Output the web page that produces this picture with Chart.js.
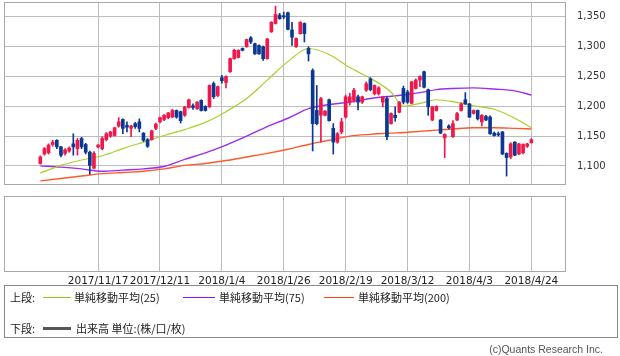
<!DOCTYPE html>
<html>
<head>
<meta charset="utf-8">
<script src="https://cdn.jsdelivr.net/npm/chart.js@4/dist/chart.umd.min.js"></script>
<style>
  html,body{margin:0;padding:0;background:#fff;}
  #wrap{position:relative;width:620px;height:356px;overflow:hidden;font-family:"Noto Sans CJK JP","DejaVu Sans",sans-serif;color:#222;}
  canvas{position:absolute;left:0;}
  #legend{position:absolute;left:4px;top:285px;width:614px;height:53px;border:1px solid #888;box-sizing:border-box;font-size:11px;}
  .t{position:absolute;white-space:nowrap;line-height:12px;}
  .ln{position:absolute;display:block;height:1px;}
  #copy{position:absolute;right:17px;top:343px;font-family:"Liberation Sans",sans-serif;font-size:10.5px;color:#555;white-space:nowrap;}
</style>
</head>
<body>
<div id="wrap">
  <canvas id="top" width="620" height="190" style="top:0"></canvas>
  <canvas id="bot" width="620" height="96" style="top:190px"></canvas>
  <div id="legend">
    <span class="t" style="left:5px;top:5px">上段:</span>
    <div class="ln" style="left:38px;top:11px;width:28px;background:#8fc80f"></div>
    <span class="t" style="left:69px;top:5px">単純移動平均(25)</span>
    <div class="ln" style="left:178px;top:11px;width:32px;background:#8f10f0"></div>
    <span class="t" style="left:214px;top:5px">単純移動平均(75)</span>
    <div class="ln" style="left:319px;top:11px;width:30px;background:#ff3c10"></div>
    <span class="t" style="left:353px;top:5px">単純移動平均(200)</span>
    <span class="t" style="left:5px;top:36px">下段:</span>
    <div class="ln" style="left:38px;top:41px;width:28px;height:3px;background:#555"></div>
    <span class="t" style="left:71px;top:36px">出来高 単位:(株/口/枚)</span>
  </div>
  <div id="copy">(c)Quants Research Inc.</div>
</div>
<script>
// ---- data (index = trading day, 0 = 2017/10/27 ... 119 = 2018/4/24)
const open = [
1104,1120,1122,1136,1143,1132,1121,1125,1137,1129,
1146,1136,1123,1096,1132,1129,1144,1150,1151,1167,
1178,1168,1163,1171,1174,1155,1144,1144,1163,1174,
1178,1181,1182,1193,1191,1185,1198,1201,1196,1210,
1200,1199,1238,1218,1248,1240,1258,1280,1282,1297,
1300,1315,1305,1302,1300,1280,1325,1339,1353,1352,
1357,1328,1300,1322,1339,1297,1260,1193,1185,1185,
1211,1163,1140,1157,1182,1207,1210,1216,1207,1227,
1246,1221,1221,1207,1213,1171,1185,1190,1230,1224,
1205,1230,1244,1258,1228,1177,1193,1177,1147,1167,
1149,1177,1193,1211,1204,1188,1193,1174,1183,1182,
1155,1154,1157,1121,1115,1140,1120,1122,1133,1139];
const high = [
1117,1131,1137,1143,1144,1133,1129,1132,1154,1146,
1148,1138,1125,1124,1136,1149,1156,1158,1165,1181,
1179,1174,1168,1173,1179,1156,1146,1160,1172,1182,
1186,1190,1195,1194,1192,1200,1212,1204,1208,1211,
1201,1236,1241,1234,1252,1251,1281,1296,1295,1298,
1313,1317,1306,1303,1301,1314,1342,1368,1356,1358,
1358,1341,1315,1342,1340,1300,1263,1235,1215,1193,
1212,1171,1156,1180,1219,1222,1230,1219,1217,1241,
1248,1236,1233,1216,1216,1189,1199,1208,1234,1227,
1242,1246,1251,1259,1229,1200,1201,1178,1154,1169,
1176,1190,1206,1223,1205,1194,1194,1186,1185,1184,
1157,1157,1158,1122,1139,1141,1138,1137,1138,1146];
const low = [
1103,1118,1120,1133,1129,1115,1118,1123,1118,1118,
1129,1120,1086,1096,1130,1127,1142,1148,1150,1165,
1154,1157,1149,1163,1157,1141,1131,1143,1161,1172,
1176,1179,1181,1180,1172,1183,1197,1195,1195,1192,
1192,1198,1213,1216,1239,1231,1257,1279,1281,1293,
1299,1305,1287,1287,1277,1279,1324,1338,1346,1347,
1328,1302,1299,1321,1308,1276,1125,1169,1140,1184,
1175,1120,1138,1154,1180,1202,1207,1194,1205,1225,
1226,1219,1219,1199,1144,1170,1175,1189,1204,1205,
1204,1229,1233,1231,1185,1176,1192,1154,1114,1162,
1148,1176,1192,1203,1181,1187,1177,1167,1176,1153,
1150,1150,1119,1083,1112,1117,1119,1120,1131,1138];
const close = [
1115,1129,1135,1140,1132,1118,1127,1130,1132,1143,
1132,1123,1101,1121,1135,1146,1154,1157,1164,1174,
1163,1165,1167,1166,1163,1143,1133,1159,1170,1181,
1185,1189,1193,1182,1176,1199,1211,1198,1207,1193,
1193,1235,1216,1233,1243,1250,1280,1294,1294,1294,
1312,1308,1288,1288,1280,1313,1341,1354,1347,1350,
1329,1316,1314,1341,1322,1288,1171,1171,1213,1192,
1176,1140,1154,1174,1216,1216,1227,1207,1216,1238,
1228,1235,1231,1216,1149,1188,1181,1207,1207,1207,
1241,1244,1250,1232,1199,1199,1200,1155,1153,1164,
1171,1188,1204,1204,1182,1193,1179,1185,1177,1154,
1151,1152,1120,1114,1137,1118,1137,1136,1137,1144];

// moving averages read at these day indices
const maIdx  = [0,5,10,15,20,25,30,35,40,45,50,55,60,65,70,75,80,85,88,92,96,100,105,110,115,119];
const ma25   = [1088,1101,1110,1117,1129,1140,1151,1161,1173,1191,1213,1244,1275,1297,1287,1265,1247,1224,1200,1205,1211,1208,1201,1195,1180,1164];
const ma75   = [1100,1098,1095,1091,1093,1095,1099,1111,1122,1135,1150,1166,1180,1196,1203,1207,1213,1217,1219,1223,1228,1230,1231,1229,1226,1219];
const ma200  = [1075,1079,1083,1087,1089,1091,1095,1101,1104,1109,1115,1121,1128,1136,1143,1150,1153,1155,1156,1158,1160,1162,1164,1164,1163,1162];

const tickIdx    = [14,29,44,59,74,89,104,119];
const tickLabels = ['2017/11/17','2017/12/11','2018/1/4','2018/1/26','2018/2/19','2018/3/12','2018/4/3','2018/4/24'];
const yTicks     = [1100,1150,1200,1250,1300,1350];

// ---- styling
const UP = '#f0174a', DOWN = '#0c3793';
const GRID = '#bdbdbd', BORDER = '#a8a8a8';
const X_MIN = -8.8, X_MAX = 127.4;

const boxPlugin = {
  id: 'box',
  afterDraw(chart) {
    const a = chart.chartArea, c = chart.ctx;
    c.save();
    c.strokeStyle = BORDER; c.lineWidth = 1;
    c.strokeRect(Math.round(a.left) + 0.5, Math.round(a.top) + 0.5,
                 Math.round(a.right - a.left) - 1, Math.round(a.bottom - a.top) - 1);
    c.restore();
  }
};

const xBase = {
  type: 'linear', min: X_MIN, max: X_MAX, offset: false,
  afterBuildTicks: s => { s.ticks = tickIdx.map(v => ({ value: v })); },
  grid: { color: GRID, lineWidth: 1, drawTicks: false, offset: false },
  border: { display: false }
};

const up = close.map((c, i) => c >= open[i]);
const cols = up.map(u => u ? UP : DOWN);

new Chart(document.getElementById('top'), {
  type: 'bar',
  data: {
    datasets: [
      { type: 'line', label: 'MA25', data: maIdx.map((x, k) => ({ x, y: ma25[k] })),
        borderColor: '#a8d12c', borderWidth: 1.2, pointRadius: 0, cubicInterpolationMode: 'monotone', order: 5 },
      { type: 'line', label: 'MA75', data: maIdx.map((x, k) => ({ x, y: ma75[k] })),
        borderColor: '#9b2cf0', borderWidth: 1.4, pointRadius: 0, cubicInterpolationMode: 'monotone', order: 5 },
      { type: 'line', label: 'MA200', data: maIdx.map((x, k) => ({ x, y: ma200[k] })),
        borderColor: '#ff5a2a', borderWidth: 1.4, pointRadius: 0, cubicInterpolationMode: 'monotone', order: 5 },
      { label: 'wick', data: open.map((o, i) => ({ x: i, y: [low[i], high[i]] })),
        backgroundColor: cols, barThickness: 1, grouped: false, order: 2 },
      { label: 'body', data: open.map((o, i) => ({ x: i, y: [o, close[i] === o ? o + 0.8 : close[i]] })),
        backgroundColor: cols, barThickness: 3, grouped: false, order: 1 }
    ]
  },
  options: {
    responsive: false, animation: false, devicePixelRatio: 1,
    layout: { padding: { left: 4, top: 2, bottom: 5, right: 0 } },
    plugins: { legend: { display: false }, tooltip: { enabled: false } },
    scales: {
      x: Object.assign({}, xBase, {
        ticks: { display: false },
        afterFit: s => { s.height = 0; }
      }),
      y: {
        position: 'right', min: 1068, max: 1375,
        afterBuildTicks: s => { s.ticks = yTicks.map(v => ({ value: v })); },
        afterFit: s => { s.width = 54; s.paddingTop = 0; s.paddingBottom = 0; },
        grid: { color: GRID, lineWidth: 1, drawTicks: true, tickLength: 11, tickColor: 'rgba(0,0,0,0)' },
        border: { display: false },
        ticks: { padding: 0, color: '#333', font: { family: 'DejaVu Sans', size: 10 },
                 callback: v => v.toLocaleString('en-US') }
      }
    }
  },
  plugins: [boxPlugin]
});

new Chart(document.getElementById('bot'), {
  type: 'line',
  data: { datasets: [] },
  options: {
    responsive: false, animation: false, devicePixelRatio: 1,
    layout: { padding: { left: 4, top: 6, bottom: 0, right: 0 } },
    plugins: { legend: { display: false }, tooltip: { enabled: false } },
    scales: {
      x: Object.assign({}, xBase, {
        ticks: { autoSkip: false, maxRotation: 0, padding: 3, color: '#222',
                 font: { family: 'DejaVu Sans', size: 10.5 },
                 callback: v => tickLabels[tickIdx.indexOf(v)] },
        afterFit: s => { s.height = 14; }
      }),
      y: {
        position: 'right', min: 0, max: 1,
        afterFit: s => { s.width = 54; },
        grid: { display: false }, border: { display: false },
        ticks: { display: false }
      }
    }
  },
  plugins: [boxPlugin]
});
</script>
</body>
</html>
